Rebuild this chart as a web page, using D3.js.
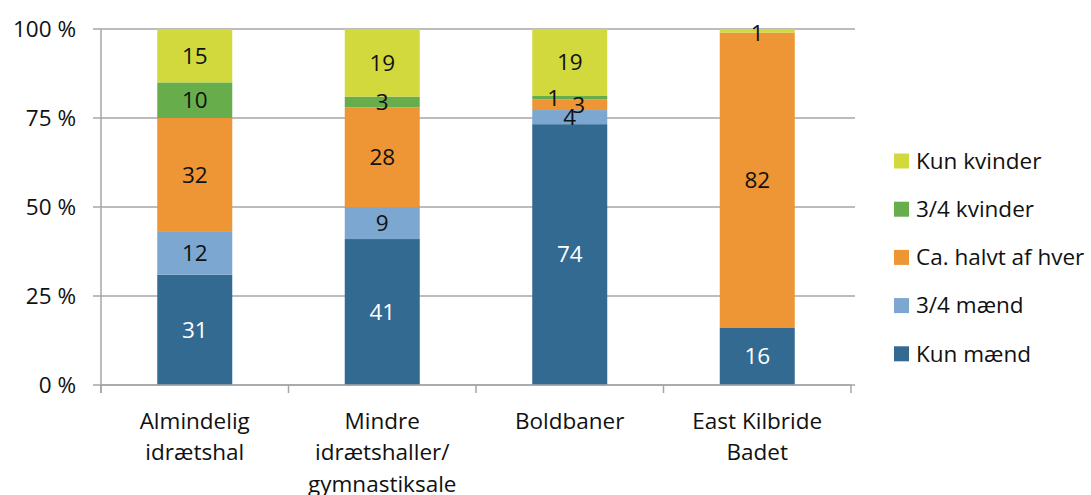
<!DOCTYPE html>
<html><head><meta charset="utf-8">
<script src="https://cdn.jsdelivr.net/npm/d3@7"></script>
<style>body{margin:0;background:#fff}svg{display:block}text{font-family:"Open Sans",sans-serif}</style>
</head><body><svg id="c" width="1091" height="495"></svg>
<script>
const categories = [["Almindelig","idrætshal"],["Mindre","idrætshaller/","gymnastiksale"],["Boldbaner"],["East Kilbride","Badet"]];
const seriesNames = ["Kun mænd","3/4 mænd","Ca. halvt af hver","3/4 kvinder","Kun kvinder"];
const kunMaend = [31,41,74,16];
const treKvartMaend = [12,9,4,0];
const halvt = [32,28,3,82];
const treKvartKvinder = [10,3,1,0];
const kunKvinder = [15,19,19,1];
const yTicks = [0,25,50,75,100];
const colors = ["#336a92","#7ba7d1","#ee9535","#67ad4b","#d1d93d"];
const labelColors = ["#fff","#111","#111","#111","#111"];

(function(){
const FS = 22.5;
const series = [kunMaend,treKvartMaend,halvt,treKvartKvinder,kunKvinder];
const svg = d3.select("#c");
const pl=101, pr=851, pt=29, pb=385;
const x = d3.scaleBand().domain(d3.range(categories.length)).range([pl,pr]).paddingInner(0.6).paddingOuter(0.3);
const y = d3.scaleLinear().domain([0,100]).range([pb,pt]);

svg.append("g").selectAll("line").data(yTicks).join("line")
  .attr("x1",93).attr("x2",pr+4).attr("y1",d=>y(d)).attr("y2",d=>y(d))
  .attr("stroke","#a6a6a6").attr("stroke-width",1.5);
svg.append("g").selectAll("text").data(yTicks).join("text")
  .attr("x",76).attr("y",d=>y(d)).attr("dy","0.35em").attr("text-anchor","end")
  .attr("font-size",FS).attr("fill","#111").text(d=>d+" %");

const totals = categories.map((c,i)=>d3.sum(series,s=>s[i]));
const offsets = {"2-3":[-16,0],"2-2":[9,0]};
series.forEach((s,k)=>{
  s.forEach((v,i)=>{
    if(!v) return;
    const base = d3.sum(series.slice(0,k),ss=>ss[i])/totals[i]*100;
    const t = base + v/totals[i]*100;
    svg.append("rect").attr("x",x(i)).attr("width",x.bandwidth())
      .attr("y",y(t)).attr("height",y(base)-y(t)).attr("fill",colors[k]);
  });
});
series.forEach((s,k)=>{
  s.forEach((v,i)=>{
    if(!v) return;
    const base = d3.sum(series.slice(0,k),ss=>ss[i])/totals[i]*100;
    const mid = base + v/totals[i]*50;
    const o = offsets[i+"-"+k]||[0,0];
    let yy = y(mid)+o[1];
    if(i===3 && k===4) yy = y(mid)+2;
    svg.append("text").attr("x",x(i)+x.bandwidth()/2+o[0]).attr("y",yy).attr("dy","0.35em")
      .attr("text-anchor","middle").attr("font-size",FS).attr("fill",labelColors[k]).text(v);
  });
});

svg.append("line").attr("x1",pl).attr("x2",pl).attr("y1",pt).attr("y2",pb+8).attr("stroke","#a6a6a6").attr("stroke-width",1.5);
svg.append("line").attr("x1",pl).attr("x2",pr).attr("y1",pb).attr("y2",pb).attr("stroke","#a6a6a6").attr("stroke-width",1.5);
const step = (pr-pl)/categories.length;
svg.append("g").selectAll("line").data(d3.range(categories.length+1)).join("line")
  .attr("x1",d=>pl+d*step).attr("x2",d=>pl+d*step).attr("y1",pb).attr("y2",pb+8)
  .attr("stroke","#a6a6a6").attr("stroke-width",1.5);

categories.forEach((lines,i)=>{
  const t = svg.append("text").attr("text-anchor","middle").attr("font-size",FS).attr("fill","#111");
  lines.forEach((l,j)=>t.append("tspan").attr("x",x(i)+x.bandwidth()/2).attr("y",421+j*31.5).attr("dy","0.35em").text(l));
});

const order = [4,3,2,1,0];
order.forEach((k,j)=>{
  const cy = 161 + j*48.2;
  svg.append("rect").attr("x",894).attr("y",cy-7.5).attr("width",15).attr("height",15).attr("fill",colors[k]);
  svg.append("text").attr("x",916).attr("y",cy).attr("dy","0.35em").attr("font-size",FS).attr("fill","#111").text(seriesNames[k]);
});
})();
</script></body></html>
